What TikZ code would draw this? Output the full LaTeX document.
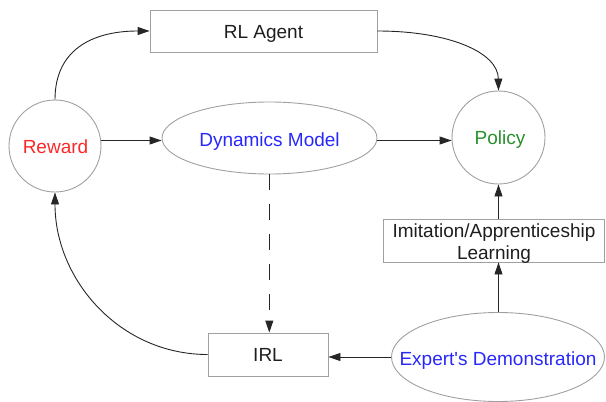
\documentclass[tikz,border=0pt]{standalone}
\usepackage{fontspec}
\setmainfont{Liberation Sans}
\usetikzlibrary{arrows.meta,shapes.geometric}
\definecolor{bordergray}{RGB}{160,160,160}
\definecolor{rewardred}{RGB}{250,40,40}
\definecolor{modelblue}{RGB}{40,40,250}
\definecolor{policygreen}{RGB}{40,145,45}
\definecolor{textdark}{RGB}{30,30,30}
\tikzset{
  base/.style={draw=bordergray, line width=0.9pt, inner sep=0pt},
  boxnode/.style={base, rectangle},
  circnode/.style={base, circle},
  ellnode/.style={base, ellipse},
  labelnode/.style={inner sep=0pt, anchor=base, font=\fontsize{19}{22}\selectfont},
  conn/.style={line width=0.9pt, draw=black!85, -{Triangle[length=12pt,width=8pt]}},
  dashconn/.style={conn, dash pattern=on 16pt off 14pt}
}
\begin{document}
\begin{tikzpicture}[x=1pt,y=-1pt]
\useasboundingbox (0,0) rectangle (606,402);
\node[boxnode, minimum width=227pt, minimum height=42pt] (rl) at (263.5,31) {};
\node[labelnode, text=textdark] (rlt) at (263.5,38) {RL Agent};
\node[circnode, minimum size=92pt] (rew) at (55,146) {};
\node[labelnode, text=rewardred] (rewt) at (55.5,153) {Reward};
\node[ellnode, minimum width=215pt, minimum height=72pt] (dyn) at (269.5,138) {};
\node[labelnode, text=modelblue] (dynt) at (269.5,146) {Dynamics Model};
\node[circnode, minimum size=93pt] (pol) at (498.5,137.5) {};
\node[labelnode, text=policygreen] (polt) at (500,144) {Policy};
\node[boxnode, minimum width=221pt, minimum height=43pt] (imi) at (494,240.5) {};
\node[labelnode, text=textdark] (imit1) at (494,237.3) {Imitation/Apprenticeship};
\node[labelnode, text=textdark] (imit2) at (494,259.3) {Learning};
\node[ellnode, minimum width=213pt, minimum height=89pt] (exp) at (498,357) {};
\node[labelnode, text=modelblue] (expt) at (498,365) {Expert\textquotesingle s Demonstration};
\node[boxnode, minimum width=120pt, minimum height=43pt] (irl) at (268,354.5) {};
\node[labelnode, text=textdark] (irlt) at (268,361.7) {IRL};

\draw[conn] (rew.north) .. controls (55,50) and (92,31) .. (rl.west);
\draw[conn] (rl.east) .. controls (448,31) and (498,52) .. (pol.north);
\draw[conn] (rew.east |- 0,140.5) -- (dyn.west |- 0,140.5);
\draw[conn] (dyn.east |- 0,140.5) -- (pol.west |- 0,140.5);
\draw[dashconn] (269.3,0 |- dyn.south) -- (269.3,0 |- irl.north);
\draw[conn] (pol.south |- imi.north) -- (pol.south);
\draw[conn] (pol.south |- exp.north) -- (pol.south |- imi.south);
\draw[conn] (exp.west) -- (irl.east |- exp.west);
\draw[conn] (irl.west) .. controls (120,354.5) and (55,280) .. (rew.south);
\end{tikzpicture}
\end{document}
